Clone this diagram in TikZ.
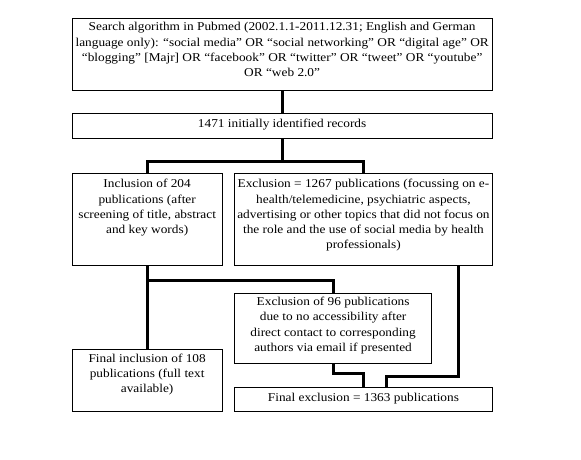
\documentclass[tikz,border=0pt]{standalone}
\usepackage{fontspec}
\setmainfont{Liberation Serif}[FakeStretch=1.11]
\newcommand\boxtext[4]{\parbox[c][#2][t]{#1}{\centering\vspace*{#3}\strut #4\par}}
\tikzset{
  box/.style={draw, line width=0.9pt, inner sep=0pt, anchor=north west,
    font=\fontsize{12}{15.3}\selectfont},
  conn/.style={line width=3pt}
}
\begin{document}
\begin{tikzpicture}[x=1pt,y=-1pt]
\useasboundingbox (0,0) rectangle (581,460);
\node[box] (top) at (71.7,18.3) {\boxtext{420pt}{71.7pt}{1.5pt}{Search algorithm in Pubmed (2002.1.1-2011.12.31; English and German\\ language only): “social media” OR “social networking” OR “digital age” OR\\ “blogging” [Majr] OR “facebook” OR “twitter” OR “tweet” OR “youtube”\\ OR “web 2.0”}};
\node[box] (rec) at (71.7,112.7) {\boxtext{420pt}{25.6pt}{3.3pt}{1471 initially identified records}};
\node[box] (inc) at (71.7,173.3) {\boxtext{150pt}{91.7pt}{3.3pt}{Inclusion of 204\\ publications (after\\ screening of title, abstract\\ and key words)}};
\node[box] (exc) at (234.3,173.3) {\boxtext{257.4pt}{91.7pt}{3.3pt}{Exclusion = 1267 publications (focussing on e-\\ health/telemedicine, psychiatric aspects,\\ advertising or other topics that did not focus on\\ the role and the use of social media by health\\ professionals)}};
\node[box] (ex96) at (234.3,292.7) {\boxtext{196.7pt}{69.8pt}{1.6pt}{Exclusion of 96 publications\\ due to no accessibility after\\ direct contact to corresponding\\ authors via email if presented}};
\node[box] (fin) at (71.7,349.3) {\boxtext{150pt}{61.7pt}{1.7pt}{Final inclusion of 108\\ publications (full text\\ available)}};
\node[box] (finex) at (234.3,387.3) {\boxtext{257.4pt}{23.7pt}{2.7pt}{Final exclusion = 1363 publications}};
\coordinate (b1) at (281.7,161.7);
\coordinate (b2) at (146.7,280.7);
\coordinate (b3) at (0,373.3);
\coordinate (e1) at (458,376.7);
\coordinate (e2) at (386.7,376.7);
\draw[conn] (top.south) -- (rec.north);
\draw[conn] (rec.south) -- (rec.south |- b1);
\draw[conn] (inc.north) |- (b1) -| (exc.north);
\draw[conn] (inc.south) -- (fin.north);
\draw[conn] (b2) -| (ex96.north);
\draw[conn] (ex96.south) |- (finex.north |- b3) -- (finex.north);
\draw[conn] (exc.south -| e1) -- (e1) -- (e2) -- (e2 |- finex.north);
\end{tikzpicture}
\end{document}
